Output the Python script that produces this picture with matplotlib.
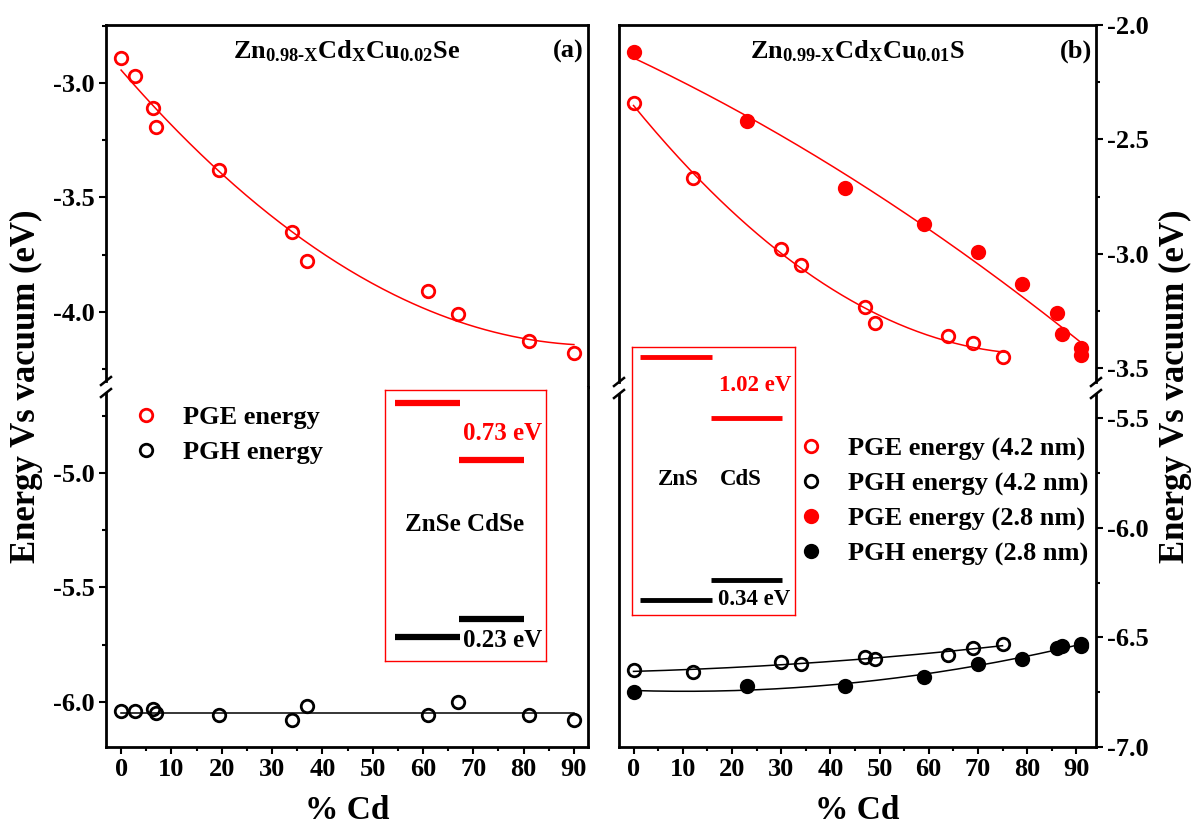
import numpy as np
import matplotlib
matplotlib.use("Agg")
import matplotlib.pyplot as plt
from matplotlib.lines import Line2D

plt.rcParams['font.family'] = 'Liberation Serif'
plt.rcParams['font.weight'] = 'bold'
plt.rcParams['axes.labelweight'] = 'bold'
plt.rcParams['axes.unicode_minus'] = False
plt.rcParams['mathtext.fontset'] = 'custom'
plt.rcParams['mathtext.rm'] = 'Liberation Serif:bold'
plt.rcParams['mathtext.it'] = 'Liberation Serif:bold'
plt.rcParams['mathtext.bf'] = 'Liberation Serif:bold'

# panel (a): Zn0.98-xCdxCu0.02Se
cd_a = [0, 2.7, 6.3, 7.0, 19.5, 34, 37, 61, 67, 81, 90]
pge_a = [-2.89, -2.97, -3.11, -3.19, -3.38, -3.65, -3.78, -3.91, -4.01, -4.13, -4.18]
pgh_a = [-6.04, -6.04, -6.03, -6.05, -6.06, -6.08, -6.02, -6.06, -6.00, -6.06, -6.08]

# panel (b): Zn0.99-xCdxCu0.01S, two particle sizes
cd_b42 = [0, 12, 30, 34, 47, 49, 64, 69, 75]
pge_b42 = [-2.34, -2.67, -2.98, -3.05, -3.23, -3.30, -3.36, -3.39, -3.45]
pgh_b42 = [-6.65, -6.66, -6.61, -6.62, -6.59, -6.60, -6.58, -6.55, -6.53]
cd_b28 = [0, 23, 43, 59, 70, 79, 86, 87, 91, 91]
pge_b28 = [-2.12, -2.42, -2.71, -2.87, -2.99, -3.13, -3.26, -3.35, -3.41, -3.44]
pgh_b28 = [-6.75, -6.72, -6.72, -6.68, -6.62, -6.60, -6.55, -6.54, -6.53, -6.54]

# band offset insets: conduction / valence levels (eV) and labels
inset_a_names = ['ZnSe CdSe']
inset_a_cb = [0.0, -0.73]
inset_a_vb = [-3.0, -2.77]
inset_a_labels = ['0.73 eV', '0.23 eV']
inset_b_names = ['ZnS', 'CdS']
inset_b_cb = [0.0, -1.02]
inset_b_vb = [-4.05, -3.71]
inset_b_labels = ['1.02 eV', '0.34 eV']

W, H = 1197, 826
fig = plt.figure(figsize=(W / 100, H / 100), dpi=100)


def frac(x0, y0, x1, y1):
    return [x0 / W, 1 - y1 / H, (x1 - x0) / W, (y1 - y0) / H]


def style(ax, top, right_side, xlim, ylim, major, minor):
    ax.set_xlim(*xlim)
    ax.set_ylim(*ylim)
    for s in ax.spines.values():
        s.set_linewidth(2.0)
    ax.spines['bottom' if top else 'top'].set_visible(False)
    ax.set_yticks(major)
    ax.set_yticks(minor, minor=True)
    ax.yaxis.set_major_formatter('{x:.1f}')
    ax.set_xticks(range(0, 91, 10))
    ax.set_xticks(range(5, 91, 10), minor=True)
    if right_side:
        ax.yaxis.tick_right()
    ax.tick_params(which='both', direction='out', width=1.5, labelsize=19, pad=3)
    ax.tick_params(which='major', length=5)
    ax.tick_params(which='minor', length=3)
    ax.tick_params(axis='y', left=not right_side, right=right_side,
                   labelleft=not right_side, labelright=right_side)
    if top:
        ax.tick_params(axis='x', which='both', bottom=False, labelbottom=False)
    else:
        ax.set_xlabel('% Cd', fontsize=24, fontweight='bold', labelpad=10)
    for t in ax.get_xticklabels() + ax.get_yticklabels():
        t.set_fontweight('bold')


def break_spine(ax_top, ax_bot, side, gap_px=6):
    for ax, upper in ((ax_top, True), (ax_bot, False)):
        lo, hi = ax.get_ylim()
        px = ax.get_position().height * H / (hi - lo)
        g = gap_px / px
        if upper:
            ax.spines[side].set_bounds(lo + g, hi)
        else:
            ax.spines[side].set_bounds(lo, hi - g)
    pos = ax_top.get_position()
    xf = pos.x0 if side == 'left' else pos.x1
    yf = pos.y0
    for dy in (-gap_px, gap_px):
        yc = yf + dy / H
        fig.add_artist(Line2D([xf - 5 / W, xf + 5 / W], [yc - 4 / H, yc + 4 / H],
                              color='k', lw=1.8))


def fit_line(ax, x, y, deg, x0, x1, color):
    c = np.polyfit(x, y, deg)
    xs = np.linspace(x0, x1, 200)
    ax.plot(xs, np.polyval(c, xs), color=color, lw=1.1, zorder=2)


red = '#ff0000'
mk = dict(marker='o', ms=9, mew=2.0, ls='none', zorder=3)
leg_kw = dict(loc='upper left', bbox_transform=fig.transFigure, frameon=False,
              prop=dict(size=19, weight='bold'), handlelength=1.0,
              handletextpad=0.9, labelspacing=0.42, borderpad=0, borderaxespad=0)

# ---------- panel (a)
a_top = fig.add_axes(frac(106, 25, 588, 387))
a_bot = fig.add_axes(frac(106, 387, 588, 747))
style(a_top, True, False, (-3, 92.8), (-4.33, -2.745),
      [-3.0, -3.5, -4.0], [-2.75, -3.25, -3.75, -4.25])
style(a_bot, False, False, (-3, 92.8), (-6.198, -4.624),
      [-5.0, -5.5, -6.0], [-4.75, -5.25, -5.75])

fit_line(a_top, cd_a, pge_a, 2, 0, 90, red)
a_top.plot(cd_a, pge_a, mfc='none', mec=red, **mk)
a_bot.plot([0, 90], [np.mean(pgh_a)] * 2, color='k', lw=1.1, zorder=2)
a_bot.plot(cd_a, pgh_a, mfc='none', mec='k', **mk)
break_spine(a_top, a_bot, 'left')

a_top.text(0.5, 0.909, r'$\mathbf{Zn_{0.98\text{-}X}Cd_XCu_{0.02}Se}$', fontsize=19,
           ha='center', va='baseline', transform=a_top.transAxes)
a_top.text(0.99, 0.909, '(a)', fontsize=19, ha='right', va='baseline',
           transform=a_top.transAxes)

h_a = [Line2D([], [], mfc='none', mec=red, **mk),
       Line2D([], [], mfc='none', mec='k', **mk)]
a_bot.legend(h_a, ['PGE energy', 'PGH energy'],
             bbox_to_anchor=(133 / W, 1 - 406 / H), **leg_kw)

# ---------- panel (b)
b_top = fig.add_axes(frac(619, 25, 1096, 388))
b_bot = fig.add_axes(frac(619, 388, 1096, 747))
style(b_top, True, True, (-2.95, 94), (-3.586, -2.0),
      [-2.0, -2.5, -3.0, -3.5], [-2.25, -2.75, -3.25])
style(b_bot, False, True, (-2.95, 94), (-7.0, -5.362),
      [-5.5, -6.0, -6.5, -7.0], [-5.75, -6.25, -6.75])

fit_line(b_top, cd_b28, pge_b28, 2, 0, 92, red)
fit_line(b_top, cd_b42, pge_b42, 2, 0, 76, red)
fit_line(b_bot, cd_b42, pgh_b42, 2, 0, 75, 'k')
fit_line(b_bot, cd_b28, pgh_b28, 2, 0, 91, 'k')
b_top.plot(cd_b42, pge_b42, mfc='none', mec=red, **mk)
b_top.plot(cd_b28, pge_b28, mfc=red, mec=red, **mk)
b_bot.plot(cd_b42, pgh_b42, mfc='none', mec='k', **mk)
b_bot.plot(cd_b28, pgh_b28, mfc='k', mec='k', **mk)
break_spine(b_top, b_bot, 'left')
break_spine(b_top, b_bot, 'right')

b_top.text(0.5, 0.909, r'$\mathbf{Zn_{0.99\text{-}X}Cd_XCu_{0.01}S}$', fontsize=19,
           ha='center', va='baseline', transform=b_top.transAxes)
b_top.text(0.992, 0.909, '(b)', fontsize=19, ha='right', va='baseline',
           transform=b_top.transAxes)

h_b = [Line2D([], [], mfc='none', mec=red, **mk),
       Line2D([], [], mfc='none', mec='k', **mk),
       Line2D([], [], mfc=red, mec=red, **mk),
       Line2D([], [], mfc='k', mec='k', **mk)]
b_bot.legend(h_b, ['PGE energy (4.2 nm)', 'PGH energy (4.2 nm)',
                   'PGE energy (2.8 nm)', 'PGH energy (2.8 nm)'],
             bbox_to_anchor=(798 / W, 1 - 437 / H), **leg_kw)

# shared y labels
fig.text(26 / W, 1 - 386 / H, 'Energy Vs vacuum (eV)', rotation=90,
         fontsize=25, fontweight='bold', ha='center', va='center')
fig.text(1175 / W, 1 - 386 / H, 'Energy Vs vacuum (eV)', rotation=90,
         fontsize=25, fontweight='bold', ha='center', va='center')


# ---------- band offset insets
def inset(rect, cb, vb, ylim, bars_x, lw, fs, cb_label, vb_label, names):
    ax = fig.add_axes(frac(*rect))
    ax.set_xlim(0, 1)
    ax.set_ylim(*ylim)
    ax.set_xticks([])
    ax.set_yticks([])
    for s in ax.spines.values():
        s.set_color(red)
        s.set_linewidth(1.0)
    for (x0, x1), e in zip(bars_x, cb):
        ax.hlines(e, x0, x1, color=red, lw=lw)
    for (x0, x1), e in zip(bars_x, vb):
        ax.hlines(e, x0, x1, color='k', lw=lw)
    ax.text(*cb_label[0], cb_label[1], color=red, fontsize=fs, ha='left',
            va='center', transform=ax.transAxes)
    ax.text(*vb_label[0], vb_label[1], color='k', fontsize=fs, ha='left',
            va='center', transform=ax.transAxes)
    for (xp, yp), n in names:
        ax.text(xp, yp, n, fontsize=fs, ha='center', va='center',
                transform=ax.transAxes)
    return ax


inset((385, 390, 546, 661), inset_a_cb, inset_a_vb, (-3.308, 0.167),
      [(0.062, 0.466), (0.46, 0.863)], 4.5, 18,
      ((0.484, 0.841), inset_a_labels[0]), ((0.484, 0.077), inset_a_labels[1]),
      [((0.497, 0.502), inset_a_names[0])])
inset((632, 347, 795, 615), inset_b_cb, inset_b_vb, (-4.3, 0.167),
      [(0.049, 0.491), (0.485, 0.92)], 3.5, 16.5,
      ((0.534, 0.858), inset_b_labels[0]), ((0.528, 0.056), inset_b_labels[1]),
      [((0.285, 0.504), inset_b_names[0]), ((0.669, 0.504), inset_b_names[1])])

fig.savefig('out.png', dpi=100)
